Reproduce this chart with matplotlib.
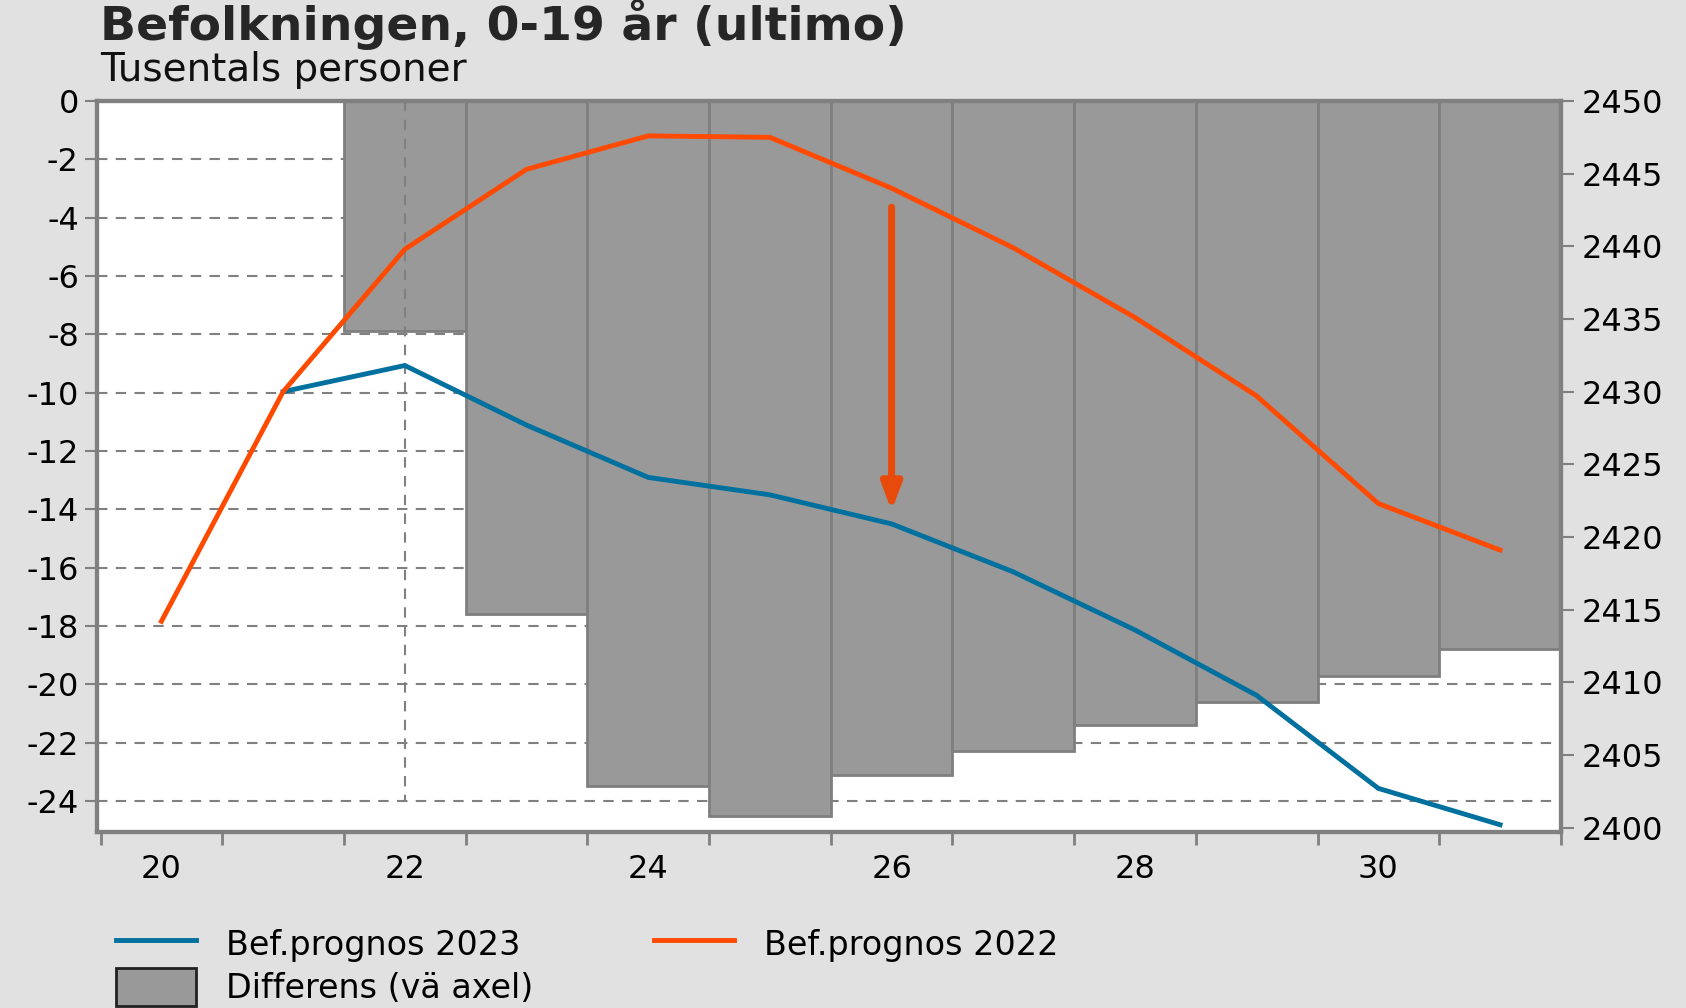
import matplotlib.pyplot as plt
from matplotlib.lines import Line2D
from matplotlib.patches import Patch

years = [20, 21, 22, 23, 24, 25, 26, 27, 28, 29, 30, 31]
prognos_2022 = [2414.2, 2430.0, 2439.8, 2445.3, 2447.6, 2447.5, 2444.0,
                2439.9, 2435.1, 2429.7, 2422.3, 2419.1]
years_2023 = [21, 22, 23, 24, 25, 26, 27, 28, 29, 30, 31]
prognos_2023 = [2430.0, 2431.8, 2427.7, 2424.1, 2422.9, 2420.9, 2417.6,
                2413.6, 2409.1, 2402.7, 2400.2]
diff_years = [22, 23, 24, 25, 26, 27, 28, 29, 30, 31]
differens = [-7.9, -17.6, -23.5, -24.5, -23.1, -22.3, -21.4, -20.6, -19.7, -18.8]

bg = "#e1e1e1"
blue = "#00709f"
orange = "#ff4a00"
grid_col = "#808080"

plt.rcParams["font.family"] = "DejaVu Sans"
plt.rcParams["axes.unicode_minus"] = False

fig = plt.figure(figsize=(16.86, 10.08), dpi=100, facecolor=bg)
ax = fig.add_axes([0.0575, 0.1746, 0.8683, 0.7252])
ax2 = ax.twinx()

# bars (left axis)
ax.bar(diff_years, differens, width=1.0, color="#999999",
       edgecolor="#7f7f7f", linewidth=2, zorder=2)
for y in range(-24, 0, 2):
    ax.axhline(y, color=grid_col, linestyle=(0, (5, 4)), linewidth=1.5, zorder=1)
ax.plot([22, 22], [0, -24], color=grid_col, linestyle=(0, (5, 4)),
        linewidth=1.5, zorder=3)

ax.set_xlim(19.47, 31.48)
ax.set_ylim(-25.06, 0)
ax.set_yticks(range(-24, 1, 2))
ax.set_xticks([20, 22, 24, 26, 28, 30])
ax.set_xticklabels(["20", "22", "24", "26", "28", "30"])
ax.set_xticks([x + 0.5 for x in range(19, 32)], minor=True)
ax.tick_params(axis="x", which="major", length=0, pad=16, labelsize=23)
ax.tick_params(axis="x", which="minor", length=9, width=2, color=grid_col)
ax.tick_params(axis="y", length=9, width=1.5, color=grid_col, labelsize=23, pad=4)
ax.set_facecolor("white")

# lines (right axis)
ax2.plot(years_2023, prognos_2023, color=blue, linewidth=3.5,
         solid_joinstyle="miter", zorder=5)
ax2.plot(years, prognos_2022, color=orange, linewidth=3.5,
         solid_joinstyle="miter", zorder=5)
ax2.set_ylim(2399.7, 2450)
ax2.set_yticks(range(2400, 2451, 5))
ax2.tick_params(axis="y", length=9, width=1.5, color=grid_col, labelsize=23, pad=6)

ax2.annotate("", xy=(26, 2421.8), xytext=(26, 2442.7),
             arrowprops=dict(arrowstyle="-|>,head_width=0.6,head_length=1.6",
                             color="#e84a0c", linewidth=5,
                             shrinkA=0, shrinkB=0))

for a in (ax, ax2):
    for s in a.spines.values():
        s.set_color(grid_col)
        s.set_linewidth(3)

fig.text(0.0593, 0.976, "Befolkningen, 0-19 år (ultimo)", fontsize=34,
         fontweight="bold", color="#262626", va="center", ha="left")
fig.text(0.0593, 0.931, "Tusentals personer", fontsize=28,
         color="#111111", va="center", ha="left")

handles = [Line2D([], [], color=blue, linewidth=3.5),
           Patch(facecolor="#999999", edgecolor="#222222", linewidth=2),
           Line2D([], [], color=orange, linewidth=3.5)]
labels = ["Bef.prognos 2023", "Differens (vä axel)", "Bef.prognos 2022"]
fig.legend(handles, labels, loc="upper left", bbox_to_anchor=(0.069, 0.083),
           ncol=2, frameon=False, fontsize=24, handlelength=2.4,
           handleheight=1.4, handletextpad=0.9, columnspacing=3.6,
           labelspacing=0.15, borderaxespad=0, borderpad=0)

fig.savefig("out.png", dpi=100, facecolor=bg)
